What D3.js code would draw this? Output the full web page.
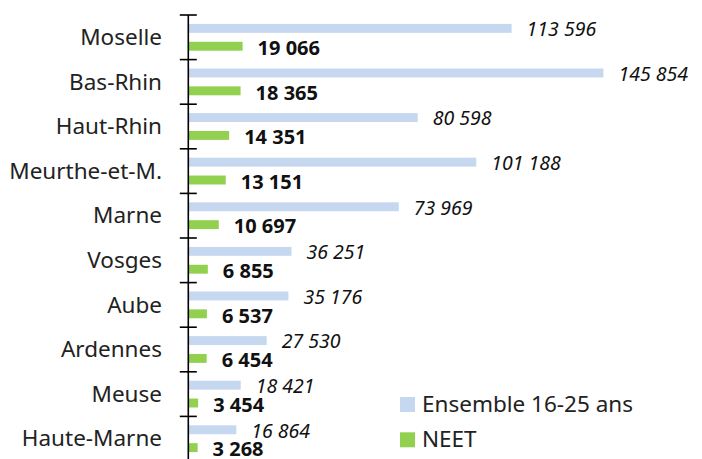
<!DOCTYPE html>
<html>
<head>
<meta charset="utf-8">
<script src="https://cdn.jsdelivr.net/npm/d3@7"></script>
<style>
  body { margin: 0; background: #fff; }
  svg text { font-family: "Noto Sans", "Open Sans", sans-serif; }
</style>
</head>
<body>
<svg id="chart" width="702" height="459"></svg>
<script>
// departements, top to bottom
var categories = ["Moselle", "Bas-Rhin", "Haut-Rhin", "Meurthe-et-M.", "Marne",
  "Vosges", "Aube", "Ardennes", "Meuse", "Haute-Marne"];
var ensemble = [113596, 145854, 80598, 101188, 73969, 36251, 35176, 27530, 18421, 16864];
var neet = [19066, 18365, 14351, 13151, 10697, 6855, 6537, 6454, 3454, 3268];
var seriesNames = ["Ensemble 16-25 ans", "NEET"];
var seriesColors = ["#c6d8f0", "#92d050"];

var svg = d3.select("#chart");

var x = d3.scaleLinear().domain([0, 180000]).range([188.3, 700.6]);
var y = d3.scaleBand().domain(categories).range([15, 461]);
var sub = d3.scaleBand().domain(seriesNames).range([0, y.bandwidth()])
  .paddingInner(0.5).paddingOuter(0.5);

// space as thousands separator
var fmt = function (v) { return d3.format(",")(v).replace(/,/g, " "); };

var rows = categories.map(function (c, i) {
  return { name: c, vals: [ensemble[i], neet[i]] };
});

var g = svg.append("g");

rows.forEach(function (r) {
  r.vals.forEach(function (v, k) {
    var yy = y(r.name) + sub(seriesNames[k]);
    g.append("rect")
      .attr("x", x(0))
      .attr("y", yy)
      .attr("width", x(v) - x(0))
      .attr("height", sub.bandwidth())
      .attr("fill", seriesColors[k]);
    g.append("text")
      .attr("x", x(v) + 15)
      .attr("y", yy + sub.bandwidth() / 2 + (k === 0 ? 7.8 : 8.8))
      .attr("font-size", k === 0 ? 19.5 : 20)
      .attr("font-style", k === 0 ? "italic" : "normal")
      .attr("font-weight", k === 0 ? "normal" : "bold")
      .attr("fill", "#111")
      .text(fmt(v));
  });
  g.append("text")
    .attr("x", 162)
    .attr("y", y(r.name) + y.bandwidth() / 2 + 7.7)
    .attr("text-anchor", "end")
    .attr("font-size", 22.5)
    .attr("fill", "#222")
    .text(r.name);
});

// axis line with ticks between the bands
var axis = svg.append("g").attr("stroke", "#000").attr("stroke-width", 1.6);
axis.append("line")
  .attr("x1", x(0)).attr("x2", x(0))
  .attr("y1", y.range()[0]).attr("y2", y.range()[1]);
var bounds = categories.map(function (c) { return y(c); }).concat([y.range()[1]]);
axis.selectAll(".tick").data(bounds).enter().append("line")
  .attr("x1", x(0) - 8.5).attr("x2", x(0) + 8.5)
  .attr("y1", function (d) { return d; })
  .attr("y2", function (d) { return d; });

// legend
var legend = svg.append("g");
seriesNames.forEach(function (s, k) {
  var ly = 397 + k * 35.3;
  legend.append("rect")
    .attr("x", 400).attr("y", ly)
    .attr("width", 15).attr("height", 15)
    .attr("fill", seriesColors[k]);
  legend.append("text")
    .attr("x", 422).attr("y", ly + 15)
    .attr("font-size", 22.5)
    .attr("fill", "#222")
    .text(s);
});
</script>
</body>
</html>
